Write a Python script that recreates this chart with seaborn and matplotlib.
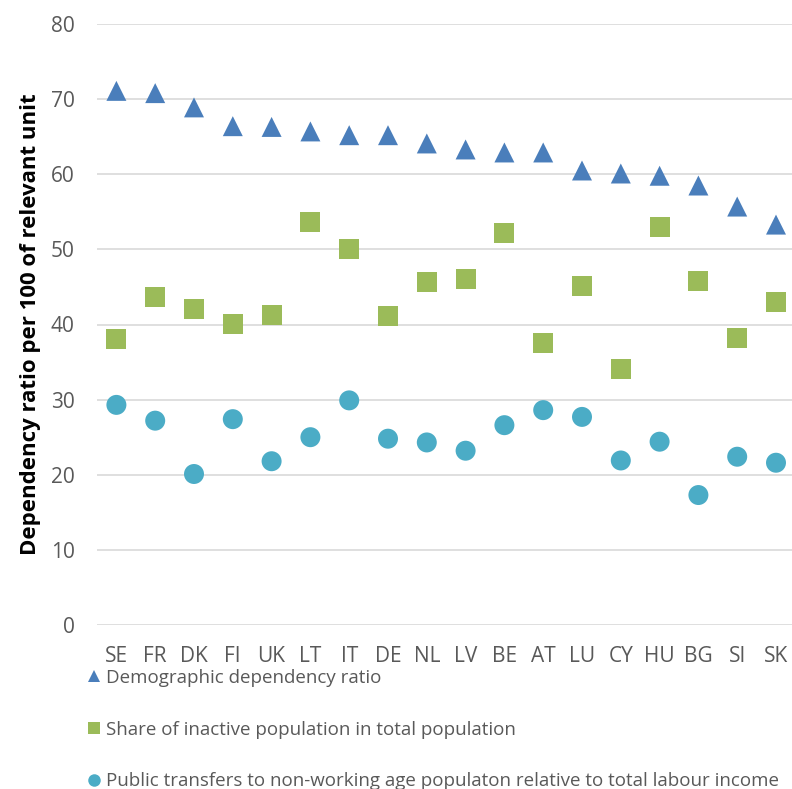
import matplotlib
matplotlib.use("Agg")
import matplotlib.pyplot as plt
from matplotlib.lines import Line2D
import seaborn as sns
import pandas as pd

countries = ["SE", "FR", "DK", "FI", "UK", "LT", "IT", "DE", "NL", "LV",
             "BE", "AT", "LU", "CY", "HU", "BG", "SI", "SK"]
demographic = [71.1, 70.8, 68.9, 66.4, 66.3, 65.7, 65.2, 65.2, 64.1, 63.3,
               62.9, 62.9, 60.5, 60.1, 59.8, 58.5, 55.7, 53.3]
inactive = [38.1, 43.6, 42.1, 40.1, 41.2, 53.7, 50.0, 41.1, 45.7, 46.1,
            52.2, 37.5, 45.1, 34.1, 53.0, 45.8, 38.2, 43.0]
transfers = [29.3, 27.2, 20.1, 27.4, 21.8, 25.0, 29.9, 24.8, 24.3, 23.2,
             26.6, 28.6, 27.7, 21.9, 24.4, 17.3, 22.4, 21.6]
series_names = [
    "Demographic dependency ratio",
    "Share of inactive population in total population",
    "Public transfers to non-working age populaton relative to total labour income",
]
y_ticks = [0, 10, 20, 30, 40, 50, 60, 70, 80]

colors = {series_names[0]: "#4a7ebb",
          series_names[1]: "#9bbb59",
          series_names[2]: "#4bacc6"}
markers = {series_names[0]: "^",
           series_names[1]: "s",
           series_names[2]: "o"}

df = pd.concat([
    pd.DataFrame({"country": countries, "value": vals, "series": name})
    for name, vals in zip(series_names, [demographic, inactive, transfers])
], ignore_index=True)
df["pos"] = df["country"].map({c: i for i, c in enumerate(countries)})

sns.set_theme(style="white")
plt.rcParams["font.family"] = ["Open Sans", "DejaVu Sans"]

fig = plt.figure(figsize=(7.92, 7.89), dpi=100)
ax = fig.add_axes([97 / 792, (789 - 625) / 789, 698.4 / 792, 601 / 789])

sns.scatterplot(data=df, x="pos", y="value", hue="series", style="series",
                palette=colors, markers=markers, s=207, linewidth=0,
                legend=False, ax=ax, zorder=3)

ax.set_xlim(-0.5, len(countries) - 0.5)
ax.set_ylim(0, 80)
ax.set_yticks(y_ticks)
ax.set_xticks(range(len(countries)))
ax.set_xticklabels(countries)
ax.tick_params(axis="both", length=0, labelsize=15, colors="#595959")
ax.tick_params(axis="y", pad=16)
ax.tick_params(axis="x", pad=15)
ax.grid(axis="y", color="#d9d9d9", linewidth=1.2)
ax.set_axisbelow(True)
for sp in ax.spines.values():
    sp.set_visible(False)
ax.set_xlabel("")
ax.set_ylabel("Dependency ratio per 100 of relevant unit", fontsize=16,
              fontweight="bold", color="black", labelpad=7)

handles = [Line2D([0], [0], marker=markers[n], linestyle="none",
                  markerfacecolor=colors[n], markeredgewidth=0, markersize=9)
           for n in series_names]
fig.legend(handles, series_names, loc="upper left",
           bbox_to_anchor=(88 / 792, 1 - 669 / 789), frameon=False,
           fontsize=13.5, labelcolor="#595959", handlelength=0.6,
           handletextpad=0.35, labelspacing=1.8, borderaxespad=0,
           borderpad=0)

fig.savefig("out.png", dpi=100)
